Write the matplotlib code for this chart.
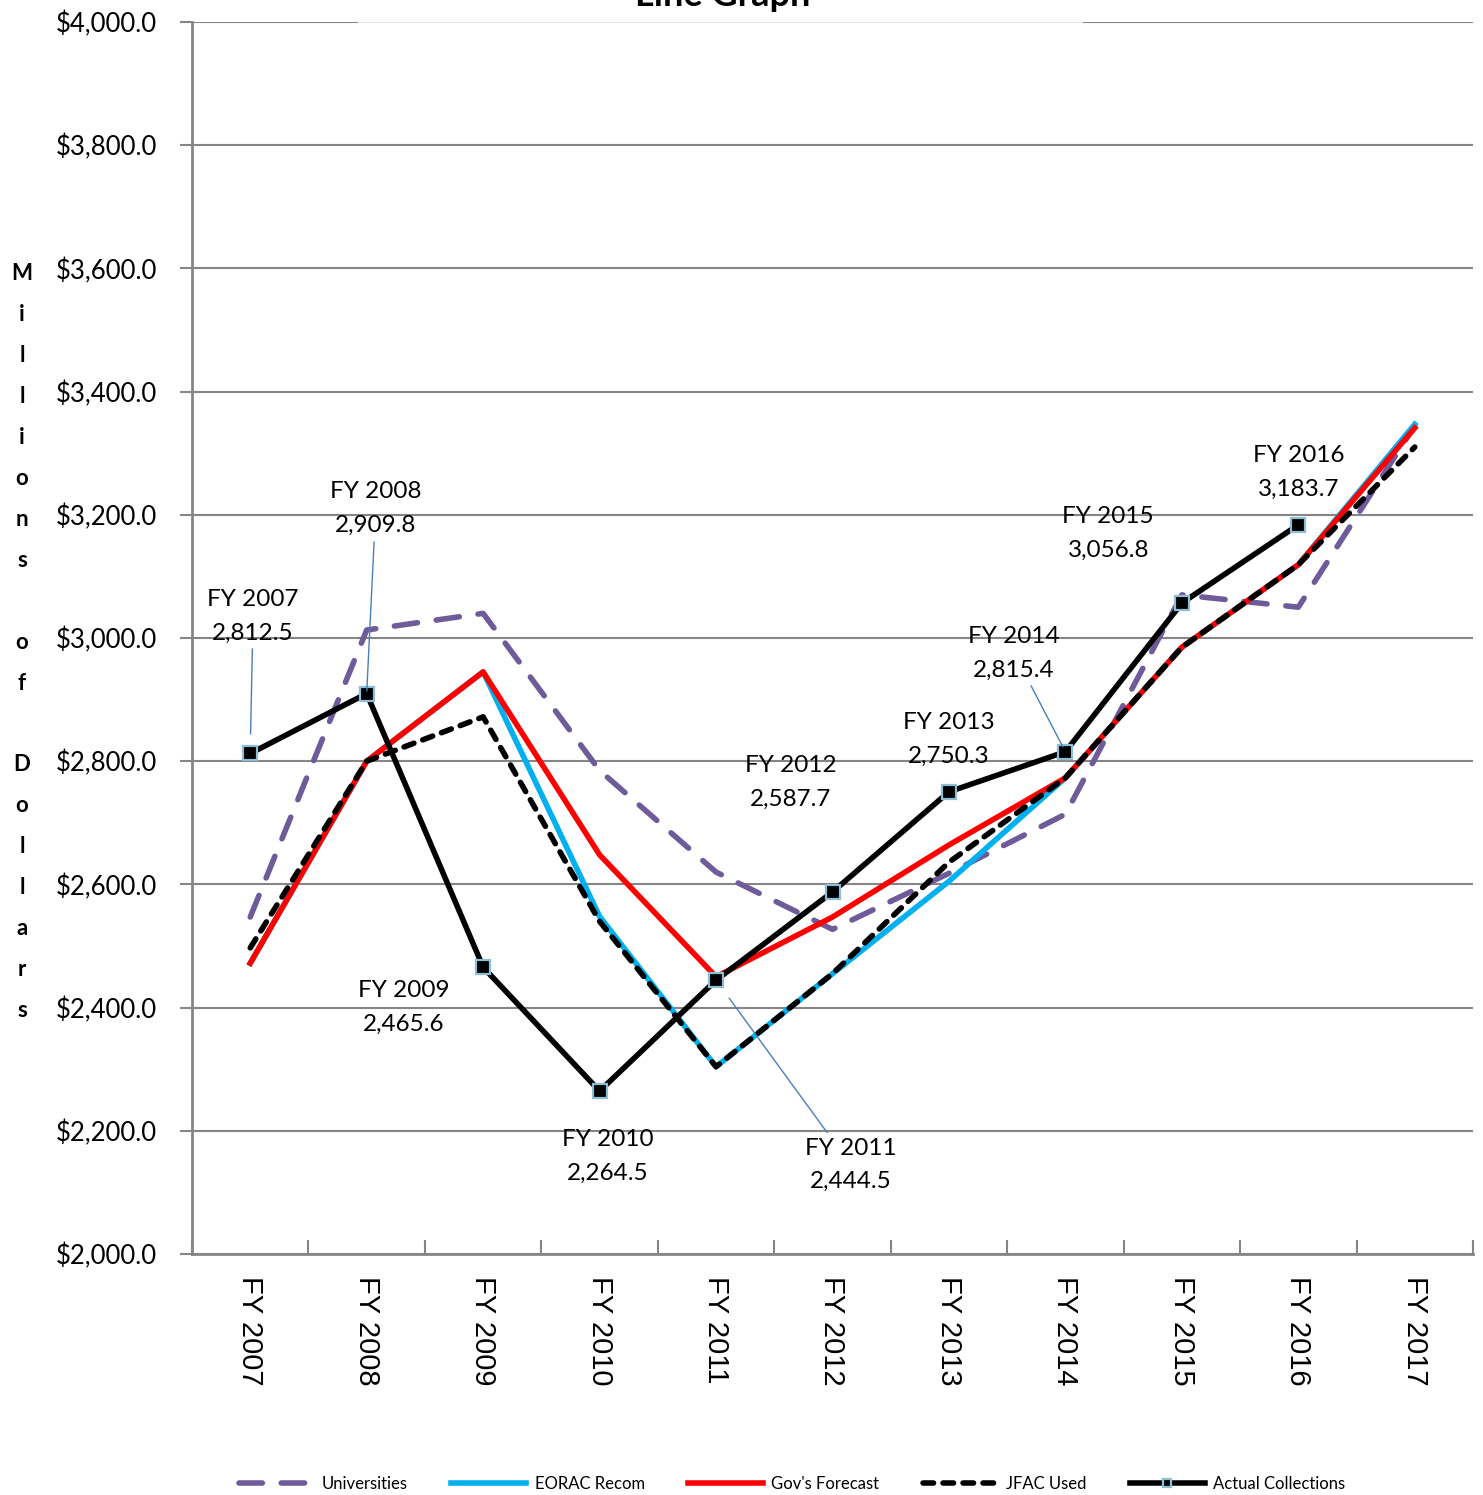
import matplotlib.pyplot as plt
from matplotlib.patches import Rectangle

years = ['FY 2007', 'FY 2008', 'FY 2009', 'FY 2010', 'FY 2011', 'FY 2012',
         'FY 2013', 'FY 2014', 'FY 2015', 'FY 2016', 'FY 2017']

universities = [2547, 3013, 3040, 2785, 2620, 2527, 2618, 2714, 3070, 3050, 3345]
eorac_recom = [2472, 2800, 2945, 2548, 2304, 2455, 2605, 2773, 2985, 3119, 3347]
govs_forecast = [2472, 2800, 2945, 2648, 2450, 2547, 2664, 2773, 2985, 3119, 3341]
jfac_used = [2497, 2800, 2872, 2540, 2304, 2455, 2636, 2773, 2985, 3119, 3310]
actual_collections = [2812.5, 2909.8, 2465.6, 2264.5, 2444.5, 2587.7,
                      2750.3, 2815.4, 3056.8, 3183.7]

# label offsets (points) and leader shrink at the marker end (None = no leader)
label_offsets = [(2, 99), (6.5, 133), (-57, -29), (6, -47), (97, -133),
                 (-30, 79), (0, 38), (-37, 71), (-53, 50), (0, 38)]
label_leaders = [14, 2, None, None, 16, None, None, 4, None, None]

FONT = 'Lato'
GRID = '#868686'

fig = plt.figure(figsize=(14.83, 14.95), dpi=100)
ax = fig.add_axes([192 / 1483, 1 - 1254 / 1495, 1281 / 1483, 1232 / 1495])

x = list(range(len(years)))
ax.plot(x, universities, color='#6f5b9a', lw=4, ls=(0, (4.2, 3.4)),
        dash_capstyle='round', zorder=3, label='Universities')
ax.plot(x, eorac_recom, color='#00b0f0', lw=4, zorder=4, label='EORAC Recom')
ax.plot(x, govs_forecast, color='#ff0000', lw=4, zorder=5, label="Gov's Forecast")
ax.plot(x, jfac_used, color='black', lw=4, ls=(0, (1.9, 1.7)),
        dash_capstyle='round', zorder=6, label='JFAC Used')
ax.plot(x[:len(actual_collections)], actual_collections, color='black', lw=4,
        marker='s', ms=10, mfc='black', mec='#8cbfd6', mew=1.6, zorder=7,
        label='Actual Collections')

for i, val in enumerate(actual_collections):
    txt = f'{years[i]}\n{val:,.1f}'
    shrink = label_leaders[i]
    props = None
    if shrink is not None:
        props = dict(arrowstyle='-', color='#4a7ebb', lw=1,
                     shrinkA=2, shrinkB=shrink)
    ax.annotate(txt, (i, val), xytext=label_offsets[i],
                textcoords='offset points', ha='center', va='center',
                fontsize=17.5, family=FONT, linespacing=1.75,
                arrowprops=props, zorder=8)

ax.set_xlim(-0.5, len(years) - 0.5)
ax.set_ylim(2000, 4000)
ax.set_yticks(range(2000, 4001, 200))
ax.set_yticklabels([f'${v:,.1f}' for v in range(2000, 4001, 200)],
                   fontsize=18.5, family=FONT)
ax.yaxis.grid(True, color=GRID, lw=1.5)
ax.set_axisbelow(True)

# category boundaries carry the tick marks, names sit between them
ax.set_xticks([i - 0.5 for i in range(len(years) + 1)])
ax.set_xticklabels([])
ax.set_xticks(x, minor=True)
ax.set_xticklabels(years, minor=True, rotation=-90, fontsize=21,
                   family='Liberation Sans')
ax.tick_params(axis='x', which='minor', length=0, pad=16)
ax.tick_params(axis='x', which='major', direction='in', length=10,
               color=GRID, width=1.5)
ax.tick_params(axis='y', length=9, color=GRID, width=1.5, pad=16)

for side in ['top', 'right']:
    ax.spines[side].set_visible(False)
for side in ['left', 'bottom']:
    ax.spines[side].set_color(GRID)
    ax.spines[side].set_linewidth(2)

# title sits mostly above the canvas, with a faded white box under it
fig.patches.append(Rectangle((358 / 1483, 1 - 24 / 1495), 725 / 1483, 24 / 1495,
                             transform=fig.transFigure, facecolor='white',
                             alpha=0.8, edgecolor='none', zorder=2))
fig.text(0.487, 1 - 6 / 1495, 'Line Graph', ha='center', va='baseline',
         fontsize=26, fontweight='bold', family=FONT, zorder=3)

# stacked y-axis title
ylabel = 'Millions of Dollars'
for k, ch in enumerate(ylabel):
    fig.text(22 / 1483, 1 - (274 + 40.9 * k) / 1495, ch, ha='center',
             va='center', fontsize=16, fontweight='bold', family=FONT)

handles, labels = ax.get_legend_handles_labels()
fig.legend(handles, labels, loc='lower center', bbox_to_anchor=(0.534, -0.008),
           ncol=5, frameon=False, handlelength=4.5, handletextpad=0.5,
           columnspacing=2.6, numpoints=1, markerscale=0.6,
           prop={'family': FONT, 'size': 12})

fig.savefig('out.png', dpi=100)
